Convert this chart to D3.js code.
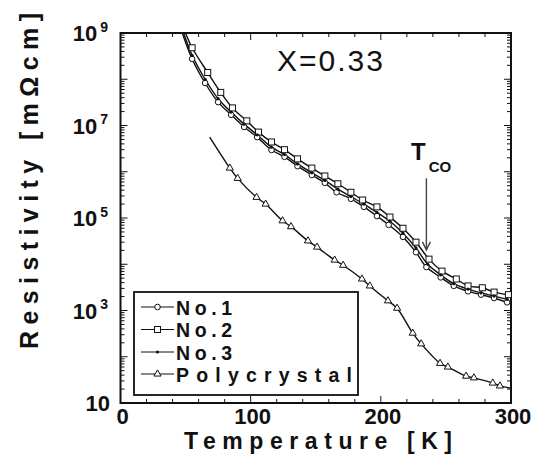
<!DOCTYPE html>
<html>
<head>
<meta charset="utf-8">
<script src="https://cdn.jsdelivr.net/npm/d3@7"></script>
<style>
  body { margin: 0; background: #fff; }
  text { font-family: "Liberation Sans", Arial, sans-serif; font-weight: bold; fill: #111; }
</style>
</head>
<body>
<div id="chart"></div>
<script>
// temperature [K] and resistivity [mOhm cm]
var tNo1 = [47.5, 55, 65, 75, 85, 95, 105, 116, 126, 136, 147, 157, 166, 177, 187, 197, 206, 217, 227, 235, 246, 256, 267, 277, 287, 297];
var rNo1 = [1e9, 2.75e8, 8.3e7, 3.2e7, 1.7e7, 9.3e6, 5.6e6, 2.95e6, 2.1e6, 1.32e6, 8.5e5, 5.75e5, 3.6e5, 2.6e5, 1.74e5, 1.1e5, 7.1e4, 3.9e4, 1.82e4, 8.7e3, 5.2e3, 3.4e3, 2.6e3, 2.2e3, 1.86e3, 1.5e3];

var tNo2 = [50, 55, 67, 77, 86, 97, 106, 116, 126, 136, 147, 157, 167, 177, 186, 197, 207, 217, 227, 237, 247, 258, 267, 278, 287, 298];
var rNo2 = [1e9, 4.8e8, 1.4e8, 5.2e7, 2.4e7, 1.26e7, 7.2e6, 4.4e6, 3.0e6, 1.9e6, 1.2e6, 8.1e5, 5.5e5, 3.6e5, 2.45e5, 1.74e5, 1.05e5, 6.0e4, 3.0e4, 1.29e4, 7.1e3, 4.8e3, 3.4e3, 3.1e3, 2.5e3, 2.2e3];

var tNo3 = [48.5, 55, 65, 75, 85, 95, 105, 116, 126, 136, 147, 157, 167, 177, 187, 197, 207, 217, 227, 236, 246, 256, 267, 277, 287, 297];
var rNo3 = [1e9, 3.3e8, 1.0e8, 3.8e7, 1.95e7, 1.07e7, 6.3e6, 3.4e6, 2.35e6, 1.48e6, 9.5e5, 6.5e5, 4.2e5, 2.9e5, 2.0e5, 1.32e5, 8.5e4, 4.7e4, 2.25e4, 1.0e4, 5.9e3, 3.8e3, 2.9e3, 2.4e3, 2.05e3, 1.74e3];

var tPoly = [68.5, 84, 90, 104.5, 111.5, 124.5, 131, 144, 151, 164.5, 171, 185.5, 191.5, 205.5, 212.5, 224.5, 231, 245.5, 251.5, 265.5, 271.5, 286, 291.5, 300];
var rPoly = [5.6e6, 1.2e6, 7.2e5, 2.8e5, 2.0e5, 8.7e4, 6.5e4, 3.2e4, 2.35e4, 1.23e4, 9.5e3, 4.8e3, 3.4e3, 1.62e3, 1.12e3, 324, 190, 72, 60, 38, 35, 27, 23.4, 21];

var legendNames = ["No.1", "No.2", "No.3", "Polycrystal"];
var xTickLabels = [0, 100, 200, 300];
var yTickExp = [1, 3, 5, 7, 9];
var tCO = 235;

var width = 547, height = 454;
var svg = d3.select("#chart").append("svg")
    .attr("width", width).attr("height", height);

var x = d3.scaleLinear().domain([0, 300]).range([120.5, 511]);
var y = d3.scaleLog().domain([10, 1e9]).range([403, 33]);

svg.append("defs").append("clipPath").attr("id", "plotClip")
  .append("rect")
    .attr("x", x(0)).attr("y", y(1e9))
    .attr("width", x(300) - x(0)).attr("height", y(10) - y(1e9));

// ticks, inward on all four sides
var xMinor = d3.range(0, 301, 20);
var yMinor = [];
for (var e = 1; e < 9; e++) {
  for (var m = 1; m < 10; m++) yMinor.push(m * Math.pow(10, e));
}
yMinor.push(1e9);

var ticks = svg.append("g").attr("stroke", "#111").attr("stroke-width", 1);
xMinor.forEach(function(t){
  var len = (t % 100 == 0) ? 7 : 4;
  ticks.append("line").attr("x1", x(t)).attr("x2", x(t)).attr("y1", y(10)).attr("y2", y(10) - len);
  ticks.append("line").attr("x1", x(t)).attr("x2", x(t)).attr("y1", y(1e9)).attr("y2", y(1e9) + len);
});
yMinor.forEach(function(v){
  var lg = Math.log10(v);
  var len = Math.abs(lg - Math.round(lg)) < 1e-9 ? 7 : 4;
  ticks.append("line").attr("x1", x(0)).attr("x2", x(0) + len).attr("y1", y(v)).attr("y2", y(v));
  ticks.append("line").attr("x1", x(300)).attr("x2", x(300) - len).attr("y1", y(v)).attr("y2", y(v));
});

// frame
svg.append("rect")
  .attr("x", x(0)).attr("y", y(1e9))
  .attr("width", x(300) - x(0)).attr("height", y(10) - y(1e9))
  .attr("fill", "none").attr("stroke", "#111").attr("stroke-width", 2);

// x tick labels
svg.selectAll(".xlab").data(xTickLabels).enter().append("text")
  .attr("class", "xlab")
  .attr("x", function(d){ return x(d) + 2; })
  .attr("y", 424)
  .attr("text-anchor", "middle")
  .style("font-size", "22px")
  .text(function(d){ return d; });

// y tick labels 10^n
yTickExp.forEach(function(n){
  var yy = y(Math.pow(10, n));
  var t = svg.append("text")
    .attr("x", n == 1 ? 110 : 108)
    .attr("y", yy + 8)
    .attr("text-anchor", "end")
    .style("font-size", "22px");
  t.append("tspan").text("10");
  if (n != 1) {
    t.append("tspan").attr("dx", 3).attr("dy", -9.5).style("font-size", "14px").text(n);
  }
});

// axis titles
svg.append("text")
  .attr("x", 318).attr("y", 449)
  .attr("text-anchor", "middle")
  .attr("textLength", 268).attr("lengthAdjust", "spacing")
  .style("font-size", "23px")
  .text("Temperature [K]");

svg.append("text")
  .attr("transform", "translate(38,181) rotate(-90)")
  .attr("text-anchor", "middle")
  .attr("textLength", 336).attr("lengthAdjust", "spacing")
  .style("font-size", "25px")
  .text("Resistivity [mΩcm]");

// curves
var series = [
  { name: "No.1", t: tNo1, r: rNo1, mark: "circle" },
  { name: "No.2", t: tNo2, r: rNo2, mark: "square" },
  { name: "No.3", t: tNo3, r: rNo3, mark: "dot" },
  { name: "Polycrystal", t: tPoly, r: rPoly, mark: "triangle" }
];

var line = d3.line()
  .x(function(d){ return x(d[0]); })
  .y(function(d){ return y(d[1]); })
  .curve(d3.curveCatmullRom.alpha(0.5));

function drawMark(g, kind, cx, cy) {
  if (kind == "circle") {
    g.append("circle").attr("cx", cx).attr("cy", cy).attr("r", 2.8)
      .attr("fill", "#fff").attr("stroke", "#111").attr("stroke-width", 1);
  } else if (kind == "square") {
    g.append("rect").attr("x", cx - 3).attr("y", cy - 3).attr("width", 6).attr("height", 6)
      .attr("fill", "#fff").attr("stroke", "#111").attr("stroke-width", 1);
  } else if (kind == "dot") {
    g.append("circle").attr("cx", cx).attr("cy", cy).attr("r", 1.6).attr("fill", "#111");
  } else {
    g.append("path")
      .attr("d", d3.symbol().type(d3.symbolTriangle).size(22)())
      .attr("transform", "translate(" + cx + "," + cy + ")")
      .attr("fill", "#fff").attr("stroke", "#111").attr("stroke-width", 1);
  }
}

var plot = svg.append("g").attr("clip-path", "url(#plotClip)");
series.forEach(function(s){
  var pts = s.t.map(function(t, i){ return [t, s.r[i]]; });
  plot.append("path")
    .attr("d", line(pts))
    .attr("fill", "none").attr("stroke", "#111").attr("stroke-width", 1.4);
});
series.forEach(function(s){
  var g = plot.append("g");
  s.t.forEach(function(t, i){
    if (i == 0) return;
    if (s.mark == "triangle" && i == s.t.length - 1) return;
    drawMark(g, s.mark, x(t), y(s.r[i]));
  });
});

// legend
var lg = svg.append("g");
lg.append("rect")
  .attr("x", 134).attr("y", 292).attr("width", 224).attr("height", 103)
  .attr("fill", "#fff").attr("stroke", "#111").attr("stroke-width", 1.8);
var rowY = [307, 329.5, 352, 374];
var textLen = [56, 56, 56, 176];
series.forEach(function(s, i){
  lg.append("line").attr("x1", 141).attr("x2", 174).attr("y1", rowY[i]).attr("y2", rowY[i])
    .attr("stroke", "#111").attr("stroke-width", 1);
  drawMark(lg, s.mark, 157.5, rowY[i]);
  lg.append("text")
    .attr("x", 176).attr("y", rowY[i] + 7.5)
    .attr("textLength", textLen[i]).attr("lengthAdjust", "spacing")
    .style("font-size", "19.5px")
    .text(legendNames[i]);
});

// annotation
svg.append("text")
  .attr("x", 277).attr("y", 71)
  .attr("textLength", 106).attr("lengthAdjust", "spacing")
  .style("font-size", "30px").style("font-weight", "normal")
  .text("X=0.33");

var tl = svg.append("text").attr("x", 411).attr("y", 160).style("font-size", "24px");
tl.append("tspan").text("T");
tl.append("tspan").attr("dx", 3).attr("dy", 12).style("font-size", "15px").text("CO");

var ax = x(tCO);
svg.append("line")
  .attr("x1", ax).attr("x2", ax).attr("y1", y(7.2e5)).attr("y2", y(2.05e4))
  .attr("stroke", "#444").attr("stroke-width", 1.4);
svg.append("path")
  .attr("d", "M" + (ax - 4) + "," + (y(2.05e4) - 8) + "L" + ax + "," + y(2.05e4) + "L" + (ax + 4) + "," + (y(2.05e4) - 8))
  .attr("fill", "none").attr("stroke", "#444").attr("stroke-width", 1.4);
</script>
</body>
</html>
